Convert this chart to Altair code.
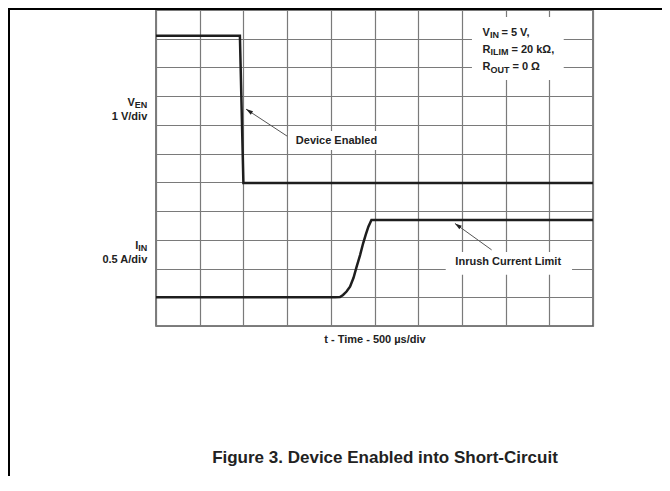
import altair as alt
import pandas as pd

# ---------------- data (x: time divisions of 500 us, y: screen divisions) ----
ven_t = [0.0, 1.92, 2.0, 10.0]
ven_v = [10.1, 10.1, 4.98, 4.98]

iin_t = [0.0, 4.1, 4.21, 4.28, 4.36, 4.44, 4.52, 4.59, 4.67, 4.74, 4.80, 4.86, 4.93, 10.0]
iin_v = [1.0, 1.0, 1.01, 1.08, 1.2, 1.37, 1.68, 2.06, 2.47, 2.88, 3.18, 3.46, 3.69, 3.69]

x_grid = list(range(0, 11))
y_grid = list(range(0, 12))

FONT = "Liberation Sans"

traces = pd.DataFrame({
    "x": ven_t + iin_t,
    "y": ven_v + iin_v,
    "series": ["VEN"] * len(ven_t) + ["IIN"] * len(iin_t),
    "idx": list(range(len(ven_t))) + list(range(len(iin_t))),
})

xs = alt.Scale(domain=[0, 10], nice=False, zero=False)
ys = alt.Scale(domain=[0, 11], nice=False, zero=False)
xaxis = alt.Axis(values=x_grid, grid=True, labels=False, ticks=False, domain=False,
                 title=None, gridColor="#7a7a7a", gridWidth=1.2, gridOpacity=1)
yaxis = alt.Axis(values=y_grid, grid=True, labels=False, ticks=False, domain=False,
                 title=None, gridColor="#7a7a7a", gridWidth=1.2, gridOpacity=1)
X = alt.X("x:Q", scale=xs, axis=xaxis)
Y = alt.Y("y:Q", scale=ys, axis=yaxis)


def one(x, y, **kw):
    d = {"x": [x], "y": [y]}
    d.update({k: [v] for k, v in kw.items()})
    return pd.DataFrame(d)


def text(x, y, s, size=11, align="left", dx=0, dy=0):
    return alt.Chart(one(x, y, t=s)).mark_text(
        font=FONT, fontWeight="bold", fontSize=size, align=align, baseline="middle",
        dx=dx, dy=dy, color="#222222"
    ).encode(x=X, y=Y, text="t:N")


def box(x1, x2, y1, y2):
    return alt.Chart(one(x1, y1, x2=x2, y2=y2)).mark_rect(color="white").encode(
        x=X, x2="x2:Q", y=Y, y2="y2:Q")


def arrow(xt, yt, xh, yh, ang):
    line = alt.Chart(one(xt, yt, x2=xh, y2=yh)).mark_rule(color="#555555", strokeWidth=1).encode(
        x=X, y=Y, x2="x2:Q", y2="y2:Q")
    head = alt.Chart(one(xh, yh)).mark_point(
        shape="M0,0L0.6,2L-0.6,2Z", size=49, filled=True, color="#222222",
        opacity=1, angle=ang).encode(x=X, y=Y)
    return line + head


boxes = (box(3.02, 5.24, 6.13, 6.79)
         + box(6.63, 9.52, 1.78, 2.58)
         + box(7.23, 9.33, 8.56, 10.76))

lines = alt.Chart(traces).mark_line(color="#1e1e1e", strokeWidth=2.5).encode(
    x=X, y=Y, detail="series:N", order="idx:Q")

arrows = arrow(3.0, 6.61, 2.06, 7.55, 303) + arrow(7.68, 2.65, 6.84, 3.57, 306)

labels = (
    text(4.13, 6.44, "Device Enabled", align="center")
    + text(8.06, 2.24, "Inrush Current Limit", align="center")
    # V_IN block
    + text(7.47, 10.2, "V") + text(7.47, 10.2, "IN", size=9, dx=7.5, dy=2.5)
    + text(7.47, 10.2, "= 5 V,", dx=19)
    + text(7.47, 9.61, "R") + text(7.47, 9.61, "ILIM", size=9, dx=8, dy=2.5)
    + text(7.47, 9.61, "= 20 kΩ,", dx=29)
    + text(7.47, 9.01, "R") + text(7.47, 9.01, "OUT", size=9, dx=8, dy=2.5)
    + text(7.47, 9.01, "= 0 Ω", dx=30)
    # left side labels
    + text(-0.2, 7.78, "V", align="right", dx=-12.5)
    + text(-0.2, 7.78, "EN", size=9, align="right", dy=2.5)
    + text(-0.2, 7.27, "1 V/div", align="right")
    + text(-0.2, 2.80, "I", align="right", dx=-9)
    + text(-0.2, 2.80, "IN", size=9, align="right", dy=2.5)
    + text(-0.2, 2.30, "0.5 A/div", align="right")
    # x title and caption
    + text(5.01, -0.49, "t - Time - 500 µs/div", align="center")
    + text(5.24, -4.6, "Figure 3. Device Enabled into Short-Circuit", size=17, align="center")
)

frame = (
    alt.Chart(one(0, 0)).mark_rule(color="black", strokeWidth=2).encode(
        x=alt.value(-147), y=alt.value(-2), y2=alt.value(470))
    + alt.Chart(one(0, 0)).mark_rule(color="black", strokeWidth=2).encode(
        x=alt.value(-148), x2=alt.value(506), y=alt.value(-1))
)

chart = alt.layer(boxes, lines, arrows, labels, frame).properties(
    width=437, height=316,
    autosize=alt.AutoSizeParams(type="none"),
    padding={"left": 148, "top": 2, "right": 69, "bottom": 150},
    background="white",
).configure_view(stroke="#555555", strokeWidth=1.5)

chart.save("out.html", embed_options={"renderer": "svg", "actions": False})
